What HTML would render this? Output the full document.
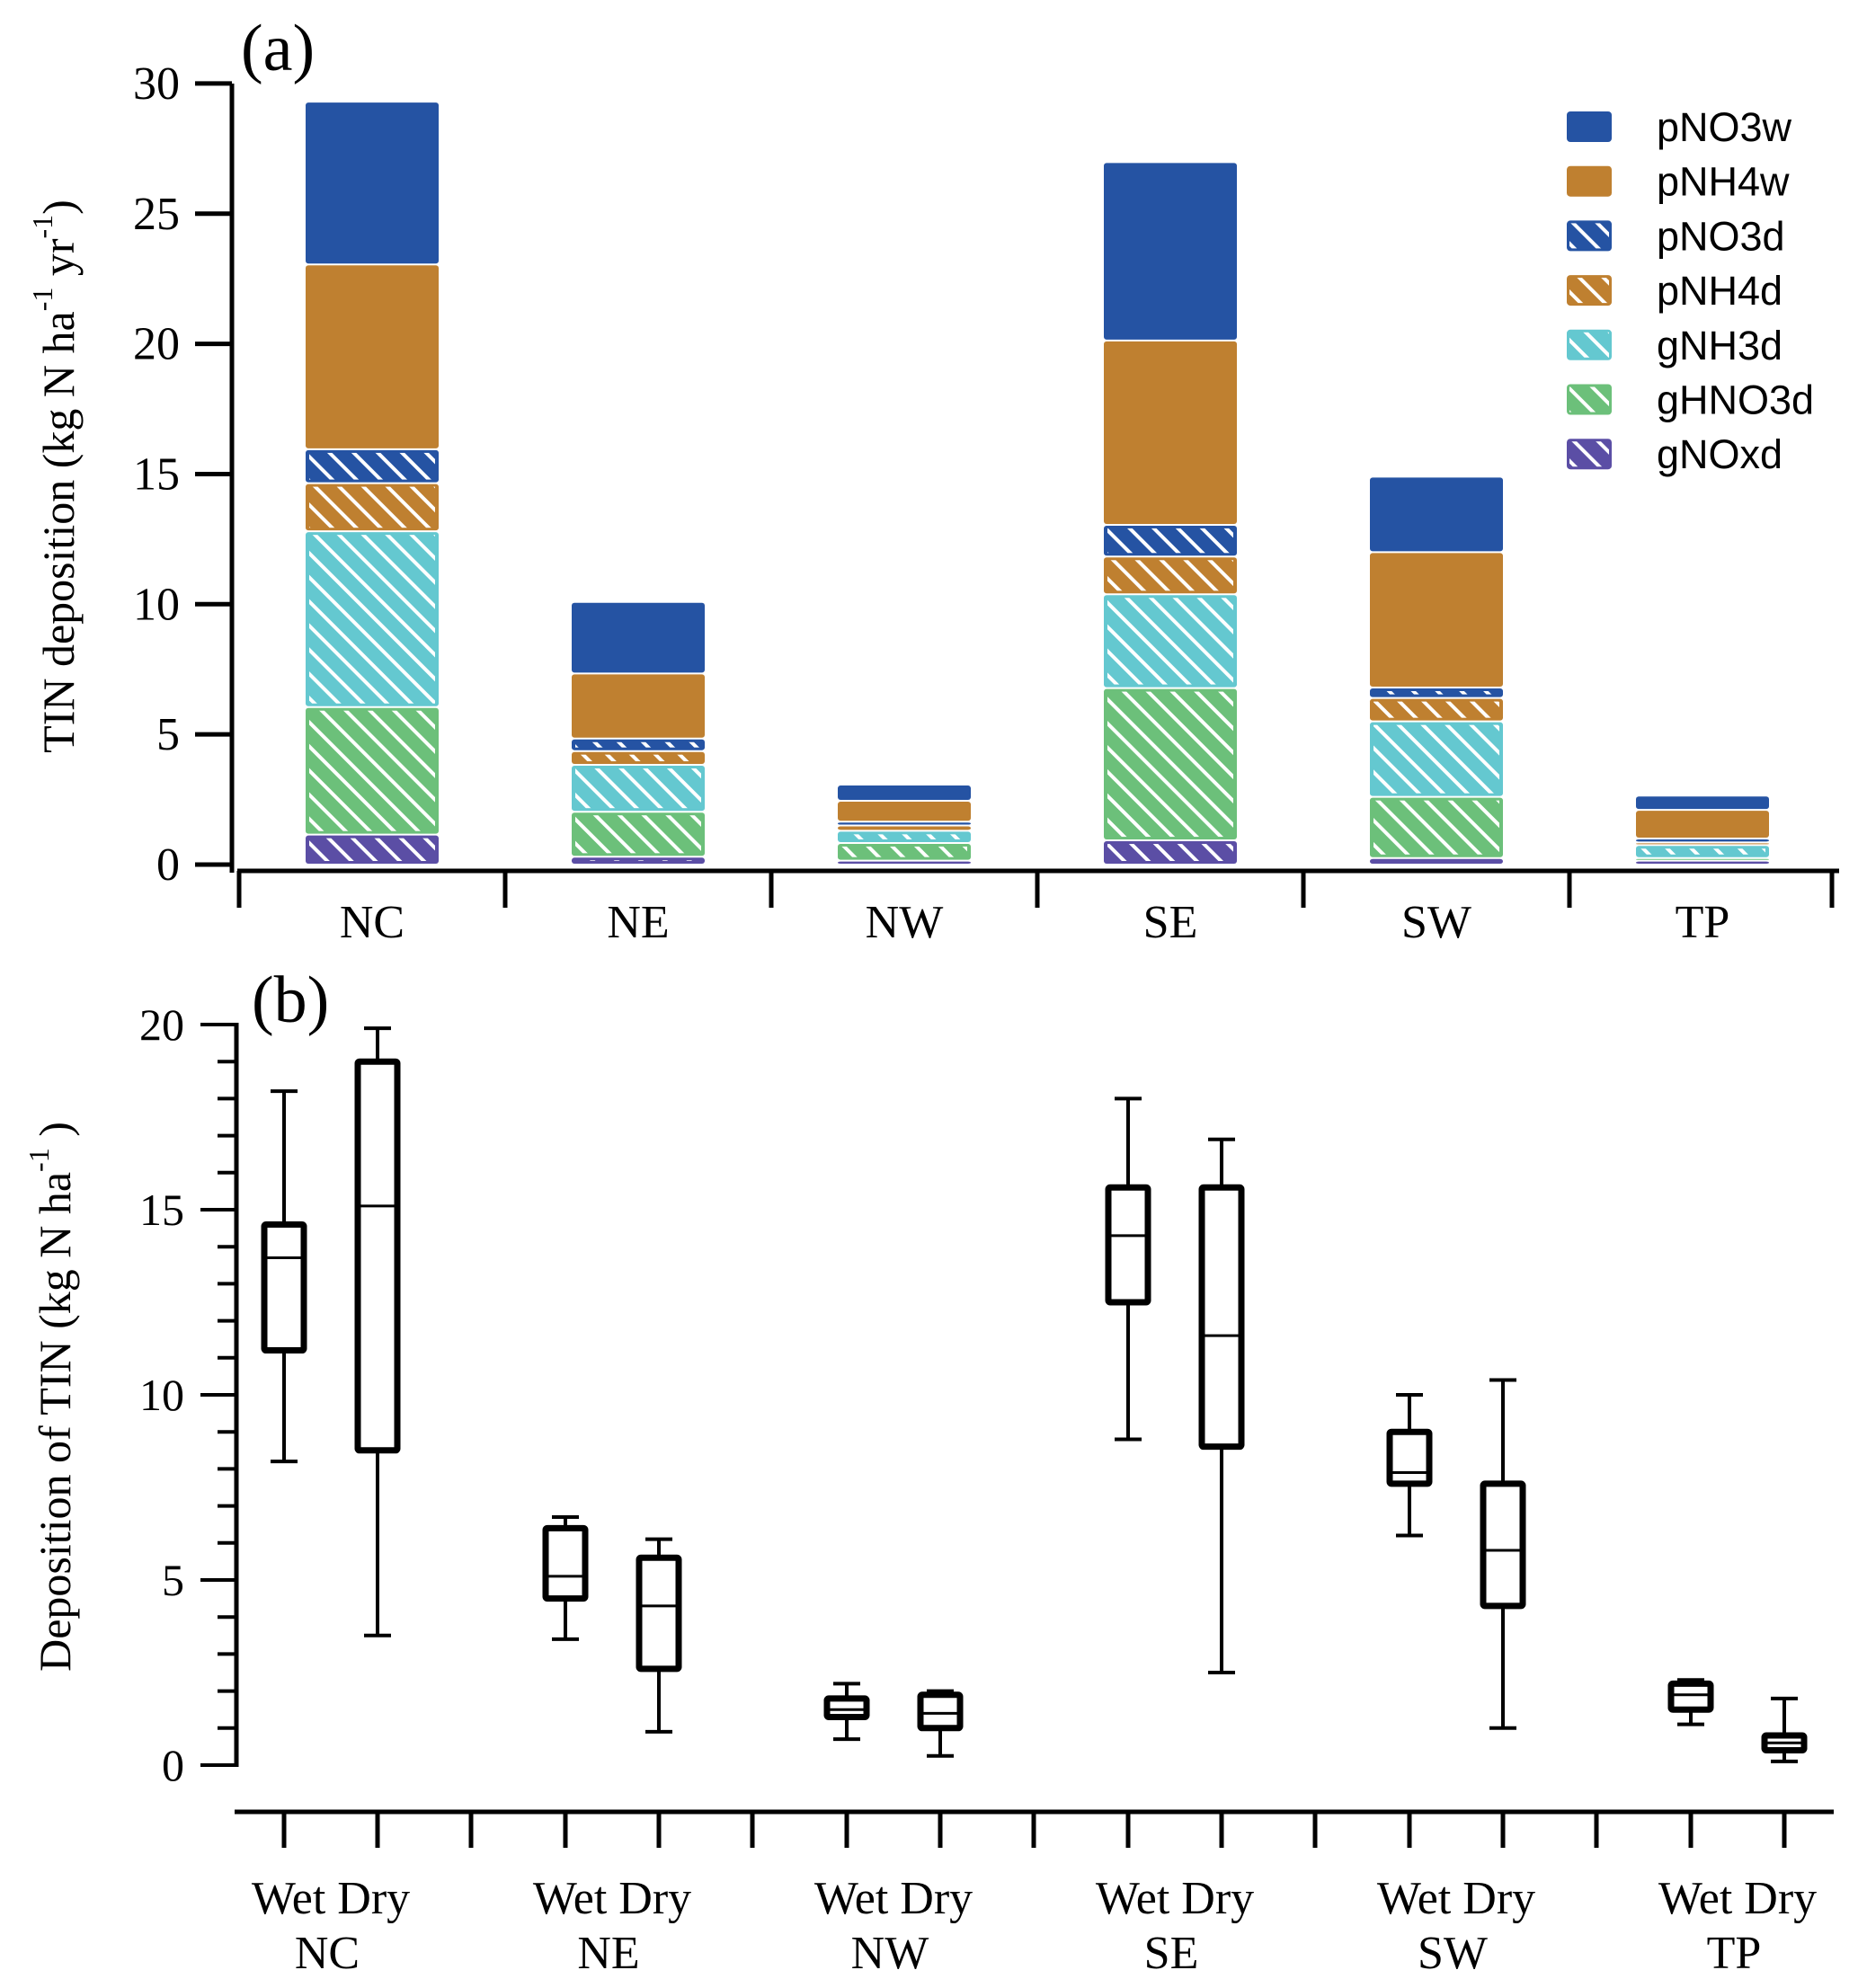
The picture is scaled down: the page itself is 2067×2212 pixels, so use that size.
<!DOCTYPE html>
<html><head><meta charset="utf-8"><style>
html,body{margin:0;padding:0;background:#fff}
svg{display:block}
</style></head><body>
<svg id="chart" xmlns="http://www.w3.org/2000/svg" width="2067" height="2212" viewBox="0 0 2067 2212">
<defs>
<pattern id="hatch" patternUnits="userSpaceOnUse" width="19" height="19" patternTransform="rotate(45)">
<rect x="0" y="0" width="19" height="4" fill="#fff"/>
</pattern>
</defs>
<g id="pa"></g>
<g id="pb"></g>
</svg>
<script>
// ---- Panel (a) data ----
const regionsA = ["NC","NE","NW","SE","SW","TP"];
const seriesNames = ["gNOxd","gHNO3d","gNH3d","pNH4d","pNO3d","pNH4w","pNO3w"];
const gNOxd  = [1.15,0.30,0.15,0.93,0.25,0.15];
const gHNO3d = [4.90,1.73,0.68,5.85,2.35,0.10];
const gNH3d  = [6.75,1.80,0.47,3.60,2.90,0.50];
const pNH4d  = [1.85,0.53,0.20,1.45,0.90,0.10];
const pNO3d  = [1.30,0.48,0.15,1.22,0.40,0.15];
const pNH4w  = [7.10,2.50,0.80,7.08,5.20,1.10];
const pNO3w  = [6.25,2.75,0.62,6.85,2.90,0.55];
const ticksA = [0,5,10,15,20,25,30];
// ---- Panel (b) data ----
const regionsB = ["NC","NE","NW","SE","SW","TP"];
const wetMin=[8.2,3.4,0.7,8.8,6.2,1.1], wetQ1=[11.2,4.5,1.3,12.5,7.6,1.5], wetMed=[13.7,5.1,1.5,14.3,7.9,1.9], wetQ3=[14.6,6.4,1.8,15.6,9.0,2.2], wetMax=[18.2,6.7,2.2,18.0,10.0,2.3];
const dryMin=[3.5,0.9,0.25,2.5,1.0,0.1], dryQ1=[8.5,2.6,1.0,8.6,4.3,0.4], dryMed=[15.1,4.3,1.4,11.6,5.8,0.6], dryQ3=[19.0,5.6,1.9,15.6,7.6,0.8], dryMax=[19.9,6.1,2.0,16.9,10.4,1.8];
const ticksB = [0,5,10,15,20];

const NS="http://www.w3.org/2000/svg";
function mk(tag,attrs,parent,text){const e=document.createElementNS(NS,tag);for(const k in attrs)e.setAttribute(k,attrs[k]);if(text!==undefined)e.textContent=text;parent.appendChild(e);return e;}
const serif='"Liberation Serif", serif', sans='"Liberation Sans", sans-serif';
const colors={pNO3w:"#2553a3",pNH4w:"#bf8030",pNO3d:"#2553a3",pNH4d:"#bf8030",gNH3d:"#64c8d0",gHNO3d:"#6cc07a",gNOxd:"#5b4ea5"};
const hatched={pNO3d:1,pNH4d:1,gNH3d:1,gHNO3d:1,gNOxd:1};
const seriesData={gNOxd,gHNO3d,gNH3d,pNH4d,pNO3d,pNH4w,pNO3w};

// ---- Panel (a) ----
const pa=document.getElementById('pa');
const yA=v=>962-v*28.97;
const xA=i=>414+i*296;
let e;
e=mk('line',{x1:258,y1:93,x2:258,y2:971,stroke:'#000','stroke-width':5},pa);

e=mk('line',{x1:264,y1:969,x2:2046,y2:969,stroke:'#000','stroke-width':5},pa);

ticksA.forEach(t=>{
  e=mk('line',{x1:217,y1:yA(t),x2:258,y2:yA(t),stroke:'#000','stroke-width':5},pa);
  
  e=mk('text',{x:200,y:yA(t)+17,'text-anchor':'end','font-family':serif,'font-size':52},pa,String(t));
  
});
for(let i=0;i<=6;i++){
  const x=266+i*296-(i==6?4:0);
  e=mk('line',{x1:x,y1:969,x2:x,y2:1010,stroke:'#000','stroke-width':5},pa);
  
}
regionsA.forEach((r,i)=>{
  e=mk('text',{x:xA(i),y:1043,'text-anchor':'middle','font-family':serif,'font-size':52},pa,r);
  
  let cum=0;
  seriesNames.forEach(s=>{
    const v=seriesData[s][i];
    const y1=yA(cum+v), y0=yA(cum);
    const h=Math.max(y0-y1-2,1);
    e=mk('rect',{x:xA(i)-74,y:y1+1,width:148,height:h,rx:3,fill:colors[s]},pa);
    
    if(hatched[s]){
      e=mk('rect',{x:xA(i)-70,y:y1+4,width:140,height:Math.max(h-6,0),fill:'url(#hatch)'},pa);
      
    }
    cum+=v;
  });
});
e=mk('text',{x:268,y:78,'font-family':serif,'font-size':74},pa,'(a)');

e=mk('text',{transform:'translate(82,530) rotate(-90)','text-anchor':'middle','font-family':serif,'font-size':50},pa);

e.innerHTML='TIN deposition (kg N ha<tspan dy="-24" font-size="32">-1</tspan><tspan dy="24"> yr</tspan><tspan dy="-24" font-size="32">-1</tspan><tspan dy="24">)</tspan>';
// legend
const legOrder=["pNO3w","pNH4w","pNO3d","pNH4d","gNH3d","gHNO3d","gNOxd"];
legOrder.forEach((s,k)=>{
  const cy=141+k*60.7;
  const g=mk('g',{},pa);
  
  mk('rect',{x:1743,y:cy-17,width:50,height:34,rx:4,fill:colors[s]},g);
  if(hatched[s]) mk('rect',{x:1746,y:cy-14,width:44,height:28,fill:'url(#hatch)'},g);
  mk('text',{x:1843,y:cy+16,'font-family':sans,'font-size':45},g,s);
});

// ---- Panel (b) ----
const pb=document.getElementById('pb');
const yB=v=>1964-v*41.2;
const xWet=i=>316+i*313, xDry=i=>420+i*313;
e=mk('line',{x1:263,y1:1138,x2:263,y2:1966,stroke:'#000','stroke-width':5},pb);

e=mk('line',{x1:261,y1:2016,x2:2040,y2:2016,stroke:'#000','stroke-width':5},pb);

for(let v=0;v<=20;v++){
  const major=v%5==0;
  e=mk('line',{x1:major?223:242,y1:yB(v),x2:263,y2:yB(v),stroke:'#000','stroke-width':4},pb);
  
}
ticksB.forEach(t=>{
  e=mk('text',{x:205,y:yB(t)+17,'text-anchor':'end','font-family':serif,'font-size':50},pb,String(t));
  
});
regionsB.forEach((r,i)=>{
  [xWet(i),xDry(i)].forEach(x=>{
    e=mk('line',{x1:x,y1:2016,x2:x,y2:2056,stroke:'#000','stroke-width':5},pb);
    
  });
  if(i<5){
    e=mk('line',{x1:524+i*313,y1:2016,x2:524+i*313,y2:2056,stroke:'#000','stroke-width':5},pb);
    
  }
  e=mk('text',{x:(xWet(i)+xDry(i))/2,y:2129,'text-anchor':'middle','font-family':serif,'font-size':52},pb,'Wet Dry');
  
  e=mk('text',{x:(xWet(i)+xDry(i))/2-4,y:2190,'text-anchor':'middle','font-family':serif,'font-size':52},pb,r);
  
  const boxes=[[xWet(i),wetMin[i],wetQ1[i],wetMed[i],wetQ3[i],wetMax[i],'wet'],[xDry(i),dryMin[i],dryQ1[i],dryMed[i],dryQ3[i],dryMax[i],'dry']];
  boxes.forEach(b=>{
    const [x,mn,q1,md,q3,mx,kind]=b;
    const g=mk('g',{},pb);
    
    mk('line',{x1:x,y1:yB(mx),x2:x,y2:yB(q3),stroke:'#000','stroke-width':4},g);
    mk('line',{x1:x,y1:yB(q1),x2:x,y2:yB(mn),stroke:'#000','stroke-width':4},g);
    mk('line',{x1:x-15,y1:yB(mx),x2:x+15,y2:yB(mx),stroke:'#000','stroke-width':4},g);
    mk('line',{x1:x-15,y1:yB(mn),x2:x+15,y2:yB(mn),stroke:'#000','stroke-width':4},g);
    mk('rect',{x:x-22,y:yB(q3),width:44,height:yB(q1)-yB(q3),fill:'#fff',stroke:'#000','stroke-width':7,rx:2},g);
    mk('line',{x1:x-22,y1:yB(md),x2:x+22,y2:yB(md),stroke:'#000','stroke-width':3},g);
  });
});
e=mk('text',{x:280,y:1137,'font-family':serif,'font-size':74},pb,'(b)');

e=mk('text',{transform:'translate(78,1554) rotate(-90)','text-anchor':'middle','font-family':serif,'font-size':50},pb);

e.innerHTML='Deposition of TIN (kg N  ha<tspan dy="-24" font-size="32">-1</tspan><tspan dy="24"> )</tspan>';
</script>
</body></html>
